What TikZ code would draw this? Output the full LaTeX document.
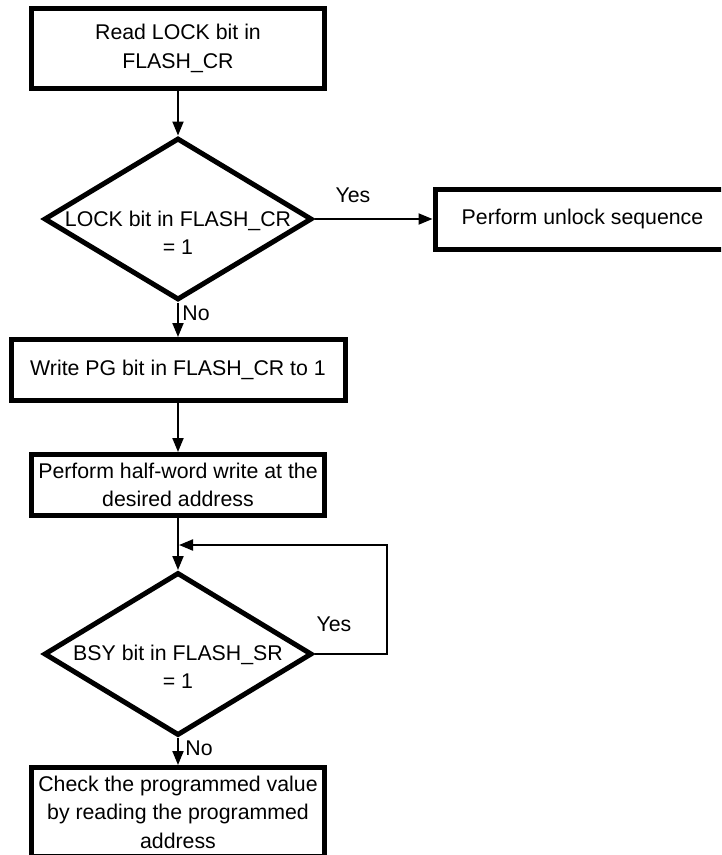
\documentclass[tikz,border=0pt]{standalone}
\usepackage{fontspec}
\setmainfont{Liberation Sans}
\usetikzlibrary{shapes.geometric,arrows.meta}
\begin{document}
\begin{tikzpicture}[x=1pt,y=-1pt,
  txt/.style={font=\fontsize{21.3}{28.5}\selectfont, align=center, inner sep=0},
  procbox/.style={draw, line width=5pt, rectangle, inner sep=0, txt},
  decision/.style={draw, line width=5pt, diamond, inner sep=0},
  conn/.style={line width=2pt, -{Triangle[length=14pt,width=11pt]}},
  lbl/.style={font=\fontsize{21.3}{24}\selectfont, inner sep=0}]
\useasboundingbox (0,0) rectangle (721,855);
\clip (0,0) rectangle (721,855);
\fill[white] (0,0) rectangle (721,855);

\node[procbox, minimum width=293, minimum height=80] (b1) at (178,48.5) {Read LOCK bit in\\FLASH\_CR};
\node[decision, minimum width=268, minimum height=162] (d1) at (178,219) {};
\node[txt] (d1t) at (178,233) {LOCK bit in FLASH\_CR\\= 1};
\node[procbox, minimum width=295, minimum height=60] (unlock) at (582.5,219) {Perform unlock sequence};
\node[procbox, minimum width=334, minimum height=61] (b2) at (178,370) {Write PG bit in FLASH\_CR to 1};
\node[procbox, minimum width=293, minimum height=61] (b3) at (178,485) {Perform half-word write at the\\desired address};
\node[decision, minimum width=268, minimum height=163] (d2) at (178,654) {};
\node[txt] (d2t) at (178,667) {BSY bit in FLASH\_SR\\= 1};
\node[procbox, minimum width=293, minimum height=89] (b4) at (178,812) {Check the programmed value\\by reading the programmed\\address};

\coordinate (j) at (179,545);

\draw[conn] (b1.south) -- (d1.north);
\draw[conn] (d1.east) -- (unlock.west);
\draw[conn] (d1.south) -- (b2.north);
\draw[conn] (b2.south) -- (b3.north);
\draw[conn] (b3.south) -- (d2.north);
\draw[conn] (d2.east) -- ++(72,0) |- (j);
\draw[conn] (d2.south) -- (b4.north);

\node[lbl] (y1) at (353,195) {Yes};
\node[lbl] (n1) at (196,313) {No};
\node[lbl] (y2) at (334,624) {Yes};
\node[lbl] (n2) at (199,748) {No};
\end{tikzpicture}
\end{document}
